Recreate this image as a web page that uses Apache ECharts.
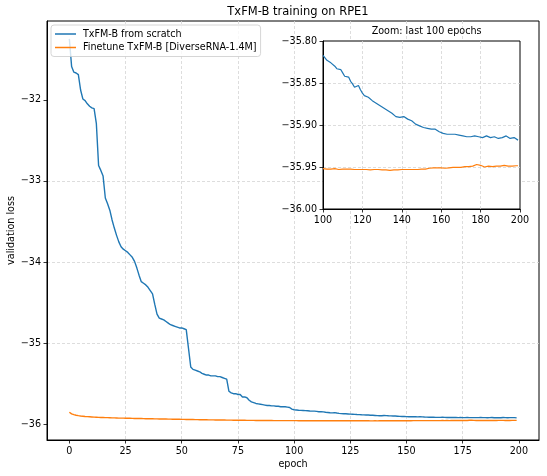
<!DOCTYPE html>
<html>
<head>
<meta charset="utf-8">
<script src="https://cdn.jsdelivr.net/npm/echarts@6/dist/echarts.min.js"></script>
<style>
  html, body { margin: 0; padding: 0; background: #fff; }
  #chart { width: 547px; height: 476px; }
</style>
</head>
<body>
<div id="chart"></div>
<script>
// validation loss per epoch
const scratchLoss = [
  -31.25, -31.59, -31.66, -31.67, -31.69, -31.88, -31.99, -32.01, -32.05, -32.08,
  -32.10, -32.11, -32.29, -32.81, -32.87, -32.94, -33.21, -33.28, -33.36, -33.48,
  -33.58, -33.67, -33.75, -33.81, -33.84, -33.86, -33.88, -33.91, -33.94, -33.99,
  -34.07, -34.16, -34.24, -34.26, -34.28, -34.31, -34.35, -34.39, -34.52, -34.64,
  -34.69, -34.70, -34.71, -34.73, -34.75, -34.77, -34.78, -34.79, -34.80, -34.81,
  -34.81, -34.82, -34.83, -35.06, -35.29, -35.32, -35.33, -35.34, -35.35, -35.37,
  -35.38, -35.39, -35.39, -35.40, -35.40, -35.40, -35.41, -35.41, -35.42, -35.43,
  -35.44, -35.59, -35.61, -35.62, -35.62, -35.63, -35.63, -35.66, -35.66, -35.67,
  -35.70, -35.72, -35.73, -35.74, -35.745, -35.75, -35.755, -35.76, -35.765, -35.765,
  -35.77, -35.77, -35.775, -35.775, -35.78, -35.78, -35.78, -35.785, -35.79, -35.81,
  -35.817, -35.820, -35.823, -35.825, -35.826, -35.828, -35.830, -35.833, -35.834, -35.834,
  -35.838, -35.842, -35.840, -35.843, -35.848, -35.851, -35.855, -35.856, -35.853, -35.858,
  -35.862, -35.865, -35.866, -35.867, -35.869, -35.871, -35.872, -35.874, -35.876, -35.877,
  -35.879, -35.880, -35.882, -35.883, -35.885, -35.886, -35.888, -35.890, -35.891, -35.891,
  -35.889, -35.890, -35.892, -35.893, -35.894, -35.895, -35.897, -35.899, -35.900, -35.901,
  -35.902, -35.903, -35.903, -35.904, -35.904, -35.905, -35.903, -35.905, -35.907, -35.908,
  -35.909, -35.910, -35.910, -35.911, -35.911, -35.911, -35.910, -35.911, -35.912, -35.912,
  -35.912, -35.913, -35.913, -35.914, -35.913, -35.914, -35.914, -35.913, -35.915, -35.914,
  -35.915, -35.915, -35.914, -35.913, -35.915, -35.915, -35.916, -35.914, -35.913, -35.916,
  -35.916, -35.915, -35.916, -35.913, -35.915, -35.916, -35.915, -35.915, -35.915, -35.918
]
const finetuneLoss = [
  -35.848, -35.868, -35.878, -35.885, -35.890, -35.894, -35.897, -35.900, -35.902, -35.904,
  -35.906, -35.908, -35.909, -35.911, -35.912, -35.913, -35.914, -35.915, -35.916, -35.917,
  -35.918, -35.919, -35.920, -35.920, -35.921, -35.922, -35.923, -35.923, -35.924, -35.925,
  -35.925, -35.926, -35.926, -35.927, -35.928, -35.928, -35.929, -35.929, -35.930, -35.930,
  -35.931, -35.931, -35.932, -35.932, -35.933, -35.933, -35.934, -35.934, -35.935, -35.935,
  -35.936, -35.936, -35.937, -35.937, -35.938, -35.938, -35.939, -35.939, -35.940, -35.940,
  -35.941, -35.941, -35.942, -35.942, -35.942, -35.943, -35.943, -35.944, -35.944, -35.944,
  -35.945, -35.945, -35.945, -35.946, -35.946, -35.946, -35.947, -35.947, -35.947, -35.948,
  -35.948, -35.948, -35.948, -35.949, -35.949, -35.949, -35.949, -35.950, -35.950, -35.950,
  -35.950, -35.951, -35.951, -35.951, -35.951, -35.951, -35.951, -35.952, -35.952, -35.952,
  -35.952, -35.952, -35.9525, -35.952, -35.9525, -35.9525, -35.952, -35.9525, -35.953, -35.9525,
  -35.9525, -35.953, -35.9525, -35.953, -35.9525, -35.953, -35.953, -35.9525, -35.953, -35.953,
  -35.953, -35.9525, -35.953, -35.953, -35.9535, -35.953, -35.953, -35.9535, -35.953, -35.9535,
  -35.9535, -35.953, -35.9535, -35.9535, -35.954, -35.954, -35.9535, -35.954, -35.9535, -35.9535,
  -35.953, -35.9535, -35.953, -35.953, -35.953, -35.9525, -35.953, -35.9525, -35.953, -35.9525,
  -35.9525, -35.952, -35.9525, -35.952, -35.9515, -35.952, -35.951, -35.9515, -35.951, -35.9515,
  -35.951, -35.951, -35.9515, -35.951, -35.951, -35.951, -35.9505, -35.951, -35.9505, -35.951,
  -35.9505, -35.9505, -35.9495, -35.950, -35.9495, -35.950, -35.949, -35.9495, -35.947, -35.9455,
  -35.948, -35.9495, -35.950, -35.9495, -35.949, -35.949, -35.9495, -35.949, -35.949, -35.9495,
  -35.949, -35.9485, -35.948, -35.9485, -35.949, -35.9485, -35.949, -35.9485, -35.9485, -35.9485
]
const seriesNames = ['TxFM-B from scratch', 'Finetune TxFM-B [DiverseRNA-1.4M]']
const colors = ['#1f77b4', '#ff7f0e']
const mainXTicks = [0, 25, 50, 75, 100, 125, 150, 175, 200]
const mainYTicks = [-36, -35, -34, -33, -32]
const zoomStart = 100

const FONT = 'DejaVu Sans'
const minus = s => String(s).replace('-', '\u2212')

const pairs = arr => arr.map((v, i) => [i, v])
const scratchData = pairs(scratchLoss)
const finetuneData = pairs(finetuneLoss)

// matplotlib-ish dashed grid, frame drawn by the grid border
const gridLine = {
  show: true,
  showMinLine: false,
  showMaxLine: false,
  lineStyle: { color: '#d4d4d4', width: 0.8, type: [3, 2] }
}
const axisLine = { show: true, onZero: false, lineStyle: { color: '#000', width: 1 } }
const tick = { show: true, inside: false, length: 3.5, lineStyle: { color: '#000', width: 0.8 } }
const label = { color: '#000', fontFamily: FONT, fontSize: 9.6, margin: 6 }
const axisName = { fontFamily: FONT, fontSize: 9.6, color: '#000' }

const chart = echarts.init(document.getElementById('chart'), null, { renderer: 'canvas' })

const option = {
  backgroundColor: '#fff',
  animation: false,
  textStyle: { fontFamily: FONT },
  title: [
    {
      text: 'TxFM-B training on RPE1',
      left: 293, top: 1, textAlign: 'center',
      textStyle: { fontFamily: FONT, fontSize: 11.5, fontWeight: 'normal', color: '#000' }
    },
    {
      text: 'Zoom: last 100 epochs',
      left: 421.6, top: 21, textAlign: 'center',
      textStyle: { fontFamily: FONT, fontSize: 9.6, fontWeight: 'normal', color: '#000' },
      z: 8
    }
  ],
  legend: {
    orient: 'vertical',
    left: 51, top: 25,
    padding: [4, 4, 4, 4],
    icon: 'rect',
    itemWidth: 21, itemHeight: 1.5, itemGap: 3.5,
    backgroundColor: 'rgba(255,255,255,0.8)',
    borderColor: '#cccccc', borderWidth: 0.8, borderRadius: 3,
    textStyle: { fontFamily: FONT, fontSize: 9.6, color: '#000', padding: [0, 0, 0, 2] },
    data: seriesNames
  },
  grid: [
    { left: 47, top: 21, width: 492, height: 419, show: true, borderColor: '#000', borderWidth: 1, backgroundColor: '#fff', outerBoundsMode: 'none' },
    { left: 323, top: 41, width: 197, height: 168, show: true, borderColor: '#000', borderWidth: 1, backgroundColor: '#fff', z: 5, outerBoundsMode: 'none' }
  ],
  xAxis: [
    {
      gridIndex: 0, type: 'value', min: -9.95, max: 208.95,
      name: 'epoch', nameLocation: 'middle', nameGap: 19, nameMoveOverlap: false,
      nameTextStyle: axisName,
      axisLine, axisTick: Object.assign({ customValues: mainXTicks }, tick),
      axisLabel: Object.assign({ customValues: mainXTicks, formatter: minus }, label),
      splitLine: gridLine
    },
    {
      gridIndex: 1, type: 'value', min: 100, max: 200, interval: 20, z: 6,
      axisLine, axisTick: tick,
      axisLabel: Object.assign({ formatter: minus }, label),
      splitLine: gridLine
    }
  ],
  yAxis: [
    {
      gridIndex: 0, type: 'value', min: -36.19, max: -31.03,
      name: 'validation loss', nameLocation: 'middle', nameGap: 31, nameRotate: 90, nameMoveOverlap: false,
      nameTextStyle: axisName,
      axisLine, axisTick: Object.assign({ customValues: mainYTicks }, tick),
      axisLabel: Object.assign({ customValues: mainYTicks, formatter: minus }, label),
      splitLine: gridLine
    },
    {
      gridIndex: 1, type: 'value', min: -36, max: -35.8, interval: 0.05, z: 6,
      axisLine, axisTick: tick,
      axisLabel: Object.assign({ formatter: v => minus(v.toFixed(2)) }, label),
      splitLine: gridLine
    }
  ],
  series: [
    {
      name: seriesNames[0], type: 'line', xAxisIndex: 0, yAxisIndex: 0,
      data: scratchData, symbol: 'none', z: 2,
      lineStyle: { color: colors[0], width: 1.4 }, itemStyle: { color: colors[0] }
    },
    {
      name: seriesNames[1], type: 'line', xAxisIndex: 0, yAxisIndex: 0,
      data: finetuneData, symbol: 'none', z: 2,
      lineStyle: { color: colors[1], width: 1.4 }, itemStyle: { color: colors[1] }
    },
    {
      name: seriesNames[0], type: 'line', xAxisIndex: 1, yAxisIndex: 1,
      data: scratchData.slice(zoomStart), symbol: 'none', z: 7,
      lineStyle: { color: colors[0], width: 1.2 }, itemStyle: { color: colors[0] }
    },
    {
      name: seriesNames[1], type: 'line', xAxisIndex: 1, yAxisIndex: 1,
      data: finetuneData.slice(zoomStart), symbol: 'none', z: 7,
      lineStyle: { color: colors[1], width: 1.2 }, itemStyle: { color: colors[1] }
    }
  ]
}

chart.setOption(option)
</script>
</body>
</html>
